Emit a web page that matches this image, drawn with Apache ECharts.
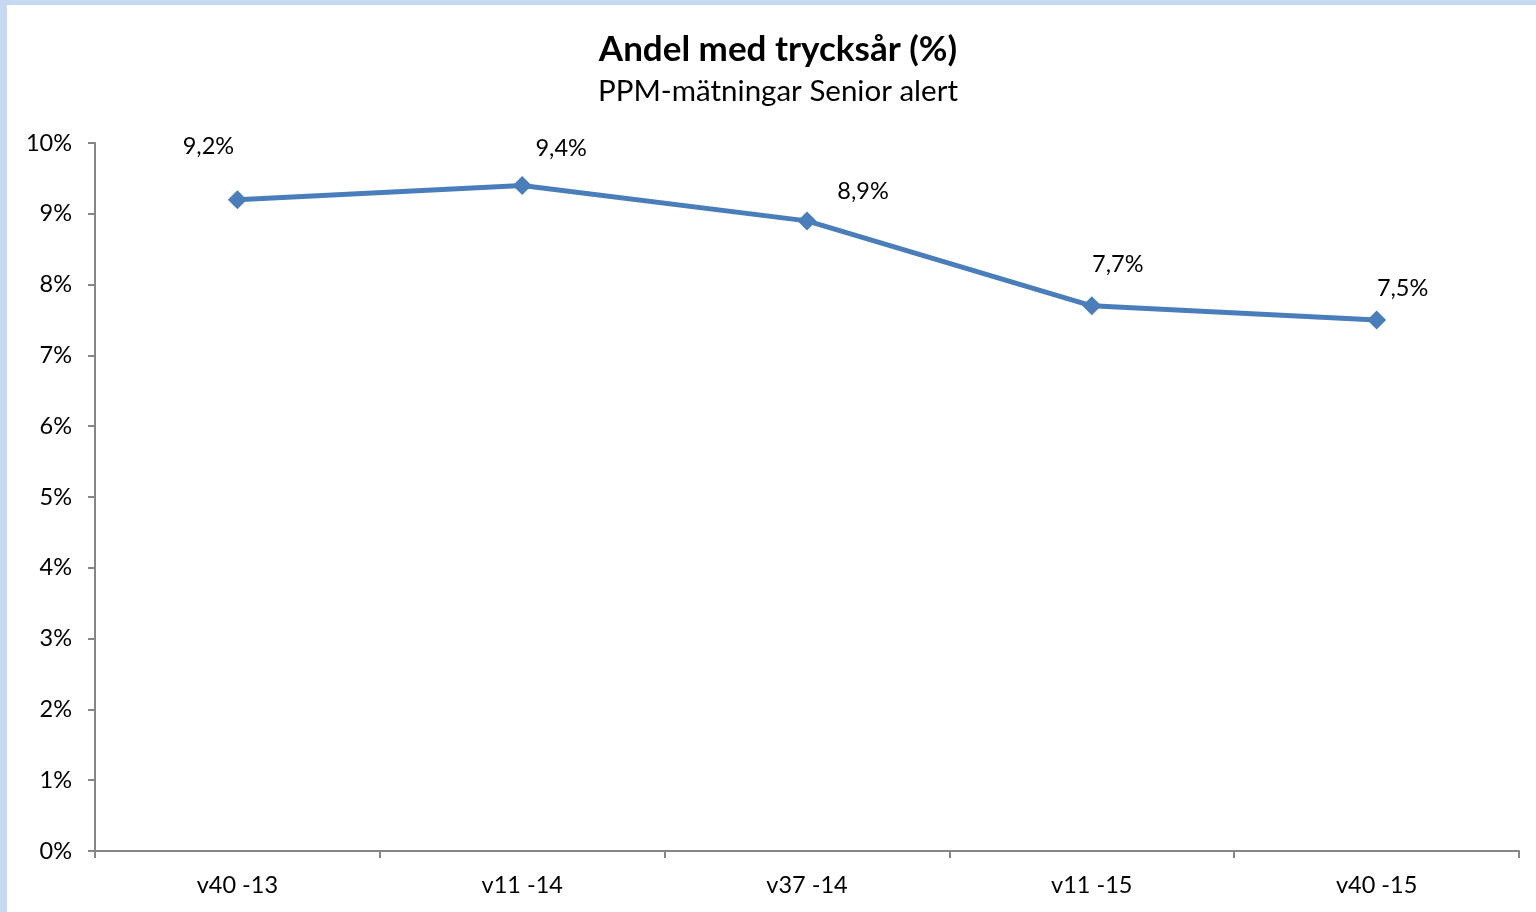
<!DOCTYPE html>
<html>
<head>
<meta charset="utf-8">
<script src="https://cdn.jsdelivr.net/npm/echarts@6/dist/echarts.min.js"></script>
<style>
  html, body { margin: 0; padding: 0; background: #c6d9f1; }
  #chart {
    position: absolute;
    left: 7px;
    top: 5px;
    width: 1529px;
    height: 907px;
    background: #fff;
  }
</style>
</head>
<body>
<div id="chart"></div>
<script>
// mätomgångar
const categories = ['v40 -13', 'v11 -14', 'v37 -14', 'v11 -15', 'v40 -15'];
// andel med trycksår, procent
const values = [9.2, 9.4, 8.9, 7.7, 7.5];
// y-axelns skala
const yMin = 0;
const yMax = 10;
const yStep = 1;

// placering av etiketterna (förskjutning i px från punkten)
const labelNudge = [[-29, -53], [39, -37], [56, -29], [26, -41], [26, -32]];

const font = 'Lato, "Open Sans", sans-serif';

const chart = echarts.init(document.getElementById('chart'));

chart.setOption({
  animation: false,
  title: [
    {
      text: 'Andel med trycksår (%)',
      left: 766,
      top: 22,
      textAlign: 'center',
      textStyle: { fontFamily: font, fontSize: 35, fontWeight: 'bold', color: '#000' }
    },
    {
      text: 'PPM-mätningar Senior alert',
      left: 766,
      top: 66,
      textAlign: 'center',
      textStyle: { fontFamily: font, fontSize: 29.5, fontWeight: 'normal', color: '#000' }
    }
  ],
  grid: { left: 88, right: 17, top: 138, bottom: 61, containLabel: false },
  xAxis: {
    type: 'category',
    data: categories,
    boundaryGap: true,
    axisLine: { lineStyle: { color: '#868686', width: 2 } },
    axisTick: { show: true, length: 7, lineStyle: { color: '#868686', width: 2 } },
    axisLabel: { color: '#000', fontFamily: font, fontSize: 23.5, margin: 22 },
    splitLine: { show: false }
  },
  yAxis: {
    type: 'value',
    min: yMin,
    max: yMax,
    interval: yStep,
    axisLine: { show: true, lineStyle: { color: '#868686', width: 2 } },
    axisTick: { show: true, length: 7, lineStyle: { color: '#868686', width: 2 } },
    axisLabel: {
      color: '#000', fontFamily: font, fontSize: 23.5, margin: 23,
      formatter: v => v + '%'
    },
    splitLine: { show: false }
  },
  series: [
    {
      type: 'line',
      data: values.map((v, i) => ({
        value: v,
        label: { offset: labelNudge[i] }
      })),
      symbol: 'diamond',
      symbolSize: 19,
      lineStyle: { color: '#4a7ebb', width: 5 },
      itemStyle: { color: '#4a7ebb' },
      label: {
        show: true,
        position: 'inside',
        color: '#000',
        fontFamily: font,
        fontSize: 23.5,
        formatter: p => p.value.toFixed(1).replace('.', ',') + '%'
      }
    }
  ]
});
</script>
</body>
</html>
